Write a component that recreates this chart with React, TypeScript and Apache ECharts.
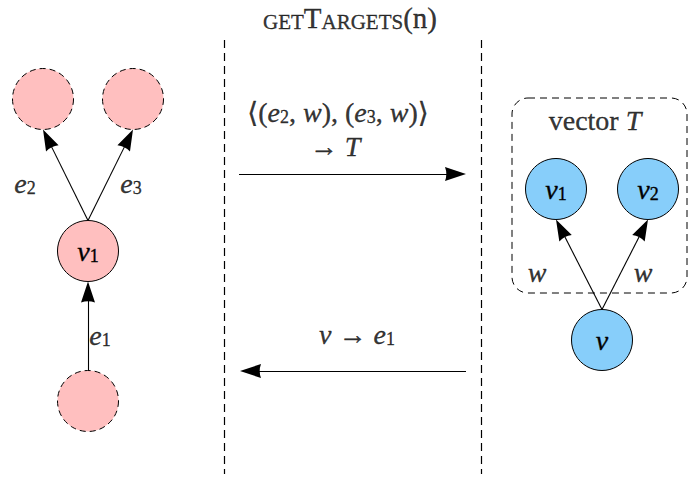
import React, { useEffect, useRef } from "react";
import * as echarts from "echarts";

// Diagram nodes (diagram coordinates, 1 unit = 1 px)
const nodeNames = ["t1", "t2", "v1L", "src", "v1R", "v2R", "vR"];
const nodeX = [43, 133, 88, 88, 556, 648, 602];
const nodeY = [99, 99, 251, 401, 189, 189, 340];
const nodeLabels = ["", "", "{m|v}{s|1}", "", "{m|v}{s|1}", "{m|v}{s|2}", "{m|v}"];
const nodeGroup = ["pinkDashed", "pinkDashed", "pink", "pinkDashed", "blue", "blue", "blue"];
const edgeSources = [2, 2, 3, 6, 6];
const edgeTargets = [0, 1, 2, 4, 5];

// Message arrows between the dashed lifelines
const messageFromX = [239, 466];
const messageToX = [466, 240];
const messageY = [174, 371];

// Lifelines
const lifelineX = [224, 481];
const lifelineTop = 40;
const lifelineBottom = 474;

// Text annotations
const annotationX = [25, 131, 100, 537, 643, 595, 338, 335, 357, 350];
const annotationY = [183, 183, 335, 272, 272, 120, 112, 146, 334, 18];
const annotationTexts = [
  "{m|e}{s|2}",
  "{m|e}{s|3}",
  "{m|e}{s|1}",
  "{m|w}",
  "{m|w}",
  "{r|vector }{m|T}",
  "{r|⟨(}{m|e}{s|2}{r|, }{m|w}{r|), (}{m|e}{s|3}{r|, }{m|w}{r|)⟩}",
  "{r|→ }{m|T}",
  "{m|v}{r| → }{m|e}{s|1}",
  "{sc|GET}{big|T}{sc|ARGETS}{big|(n)}",
];

const NODE_R = 30.5;
const ARROW_W = 14;
const ARROW_L = 21;
const ARROW_PATH = "path://M6,0 L12,20 Q6,17.5 0,20 Z";

const FONT = "'Liberation Serif', 'DejaVu Serif', serif";
const ink = { color: "#000", textBorderColor: "#000", textBorderWidth: 0.35 };
const rich = {
  m: { fontFamily: FONT, fontStyle: "italic", fontSize: 28, lineHeight: 28, verticalAlign: "top", ...ink },
  r: { fontFamily: FONT, fontSize: 28, lineHeight: 28, verticalAlign: "top", ...ink },
  s: { fontFamily: FONT, fontSize: 18, lineHeight: 12, verticalAlign: "bottom", ...ink },
  sc: { fontFamily: FONT, fontSize: 21, lineHeight: 24, verticalAlign: "bottom", ...ink },
  big: { fontFamily: FONT, fontSize: 29, lineHeight: 29, verticalAlign: "bottom", ...ink },
};

const groupStyle: Record<string, any> = {
  pinkDashed: { color: "#ffbfbf", borderColor: "#000", borderWidth: 1, borderType: [6, 4] },
  pink: { color: "#ffbfbf", borderColor: "#000", borderWidth: 1 },
  blue: { color: "#87cefa", borderColor: "#000", borderWidth: 1 },
};

function arrowSegment(x1: number, y1: number, x2: number, y2: number) {
  const dx = x2 - x1;
  const dy = y2 - y1;
  const len = Math.hypot(dx, dy);
  const ux = dx / len;
  const uy = dy / len;
  const rotate = (Math.atan2(-dy, dx) * 180) / Math.PI - 90;
  return {
    line: { coords: [[x1, y1], [x2 - ux * 6, y2 - uy * 6]] },
    head: { value: [x2 - (ux * ARROW_L) / 2, y2 - (uy * ARROW_L) / 2], symbolRotate: rotate },
  };
}

export default function App() {
  const ref = useRef<HTMLDivElement>(null);
  useEffect(() => {
    document.body.style.margin = "0";
    const chart = echarts.init(ref.current!, null, { renderer: "svg" });
    const nodes = nodeNames.map((n, i) => ({
      name: n,
      value: [nodeX[i], nodeY[i]],
      itemStyle: groupStyle[nodeGroup[i]],
      label: { show: nodeLabels[i] !== "", formatter: nodeLabels[i] },
    }));
    const segs = [
      ...edgeSources.map((s, i) => {
        const t = edgeTargets[i];
        return arrowSegment(nodeX[s], nodeY[s] - NODE_R, nodeX[t], nodeY[t] + NODE_R);
      }),
      ...messageY.map((y, i) => arrowSegment(messageFromX[i], y, messageToX[i], y)),
    ];
    const lifelines = lifelineX.map((x) => ({ coords: [[x, lifelineTop], [x, lifelineBottom]] }));
    chart.setOption({
      animation: false,
      grid: { left: 0, right: 0, top: 0, bottom: 0 },
      xAxis: { type: "value", min: 0, max: 688, show: false },
      yAxis: { type: "value", min: 0, max: 478, inverse: true, show: false },
      graphic: [
        {
          type: "rect",
          shape: { x: 512, y: 98, width: 175, height: 195, r: 16 },
          style: { fill: "none", stroke: "#000", lineWidth: 1, lineDash: [7, 5] },
          z: 1,
        },
      ],
      series: [
        {
          type: "lines",
          coordinateSystem: "cartesian2d",
          data: lifelines,
          symbol: ["none", "none"],
          lineStyle: { color: "#000", width: 1.2, type: [8, 5], opacity: 1 },
          z: 1,
        },
        {
          type: "lines",
          coordinateSystem: "cartesian2d",
          data: segs.map((s) => s.line),
          symbol: ["none", "none"],
          lineStyle: { color: "#000", width: 1.1, opacity: 1 },
          z: 2,
        },
        {
          type: "scatter",
          data: segs.map((s) => s.head),
          symbol: ARROW_PATH,
          symbolSize: [ARROW_W, ARROW_L],
          itemStyle: { color: "#000", opacity: 1 },
          z: 5,
        },
        {
          type: "graph",
          coordinateSystem: "cartesian2d",
          layout: "none",
          data: nodes,
          edges: [],
          symbolSize: NODE_R * 2,
          label: { position: "inside", color: "#000", rich },
          emphasis: { disabled: true },
          z: 3,
        },
        {
          type: "scatter",
          data: annotationX.map((x, i) => [x, annotationY[i], i]),
          symbolSize: 0,
          label: {
            show: true,
            position: "inside",
            color: "#000",
            formatter: (p: any) => annotationTexts[p.dataIndex],
            rich,
          },
          z: 4,
        },
      ],
    });
    return () => chart.dispose();
  }, []);
  return <div ref={ref} style={{ width: 688, height: 478 }} />;
}
